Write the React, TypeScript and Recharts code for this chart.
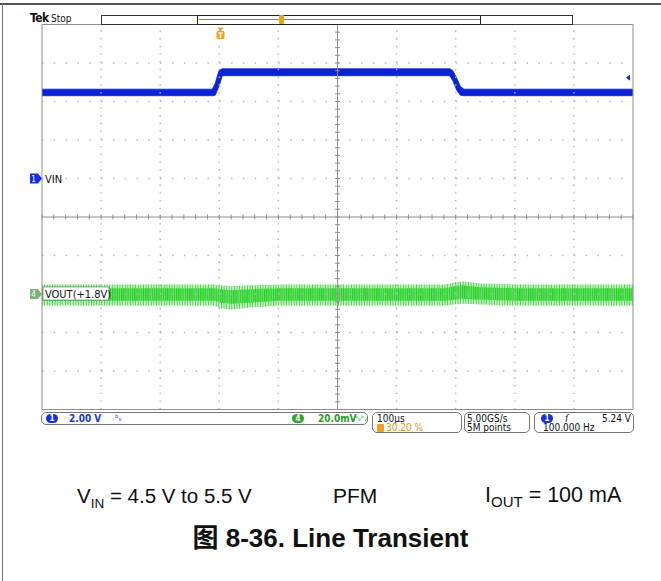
import React from 'react';
import {
  ComposedChart,
  Area,
  Scatter,
  XAxis,
  YAxis,
  ReferenceLine,
  ReferenceDot,
} from 'recharts';

// horizontal: 100 us/div, trigger at 30.20 % of the 10-div record
const TIME_DOMAIN: [number, number] = [-302, 698];

// CH1 VIN, 2.00 V/div (ground marker 4 div below top)
const VIN_DOMAIN: [number, number] = [-12, 8];
const vinTime = [-302, -14, -9, -2.5, 3, 388, 393, 400, 406, 412, 698];
const vinLow = [4.3, 4.3, 4.32, 4.78, 5.34, 5.34, 5.09, 4.57, 4.32, 4.3, 4.3];
const vinHigh = [4.64, 4.64, 4.94, 5.61, 5.7, 5.7, 5.61, 5.19, 4.78, 4.64, 4.64];

// CH4 VOUT, 20.0 mV/div, offset +1.8 V -> deviation in mV (marker 7 div below top)
const VOUT_DOMAIN: [number, number] = [-60, 140];
const voutTime = [-302, -10, 0, 20, 50, 100, 380, 395, 410, 440, 500, 698];
const voutCoreLow = [-3.5, -3.5, -4.5, -5, -4.5, -3.5, -3.5, -3, -2.5, -3, -3.5, -3.5];
const voutCoreHigh = [3, 3, 2.5, 2, 2.5, 3, 3, 4, 4.5, 3.5, 3, 3];
const voutSpikeLow = [-6, -6, -7.5, -8, -7, -6, -6, -5.5, -5, -5.5, -6, -6];
const voutSpikeHigh = [5, 5, 4.5, 4, 4.5, 5, 5, 6, 6.5, 5.5, 5, 5];

const TRIGGER_LEVEL = 5.24;

// graticule: 10 x 10 divisions, minor ticks every 0.2 div
const GRID_LINES = [1, 2, 3, 4, 6, 7, 8, 9];
const MINOR = Array.from({ length: 51 }, (_, i) => i / 5);

const vinData = vinTime.map((t, i) => ({ t, v: [vinLow[i], vinHigh[i]] }));
const voutCore = voutTime.map((t, i) => ({ t, v: [voutCoreLow[i], voutCoreHigh[i]] }));
const voutSpike = voutTime.map((t, i) => ({ t, v: [voutSpikeLow[i], voutSpikeHigh[i]] }));
const hTicks = MINOR.map((x) => ({ x, y: 5 }));
const vTicks = MINOR.map((y) => ({ x: 5, y }));

const BLUE = '#0b22d8';
const GRAY = '#8e8e8e';
const DOT = '#b4b4b4';
const ORANGE = '#f0a020';
const TEK = '"DejaVu Sans Condensed", "DejaVu Sans", sans-serif';
const ARIAL = '"Liberation Sans", Arial, sans-serif';

const ChannelMarker = (p: any) => {
  const { cx, cy, fill, num, label, boxed } = p;
  return (
    <g>
      <path d={`M${cx - 12},${cy - 5} h8 l4,5 l-4,5 h-8 z`} fill={fill} />
      <text x={cx - 8.5} y={cy + 3} fontSize={8} fill="#fff" textAnchor="middle" fontFamily={TEK}>
        {num}
      </text>
      {boxed && (
        <rect x={cx + 1} y={cy - 7} width={66} height={13} fill="#fff" stroke="#666" strokeWidth={0.6} />
      )}
      <text x={cx + 3} y={cy + 4} fontSize={11} fill="#111" fontFamily={TEK}>
        {label}
      </text>
    </g>
  );
};

const TrigLevel = (p: any) => (
  <path d={`M${p.cx - 3},${p.cy - 3} L${p.cx - 7},${p.cy} L${p.cx - 3},${p.cy + 3} z`} fill={BLUE} />
);

const TrigPos = (p: any) => (
  <g>
    <path d={`M${p.cx - 3},${p.cy + 3} h6 l-3,4 z`} fill={ORANGE} />
    <rect x={p.cx - 4} y={p.cy + 6.5} width={8} height={8} rx={1.5} fill={ORANGE} />
    <text x={p.cx} y={p.cy + 13.5} fontSize={7.5} fontWeight="bold" fill="#fff" textAnchor="middle" fontFamily={TEK}>
      T
    </text>
  </g>
);

const HTick = (p: any) => <line x1={p.cx} x2={p.cx} y1={p.cy - 2.5} y2={p.cy + 2.5} stroke={GRAY} strokeWidth={1} />;
const VTick = (p: any) => <line x1={p.cx - 2.5} x2={p.cx + 2.5} y1={p.cy} y2={p.cy} stroke={GRAY} strokeWidth={1} />;

const abs = (left: number, top: number, extra: React.CSSProperties = {}): React.CSSProperties => ({
  position: 'absolute',
  left,
  top,
  whiteSpace: 'nowrap',
  ...extra,
});

const tekText = (left: number, top: number, color = '#111', extra: React.CSSProperties = {}) =>
  abs(left, top, { fontFamily: TEK, fontSize: 10, lineHeight: '9px', color, ...extra });

const Oval = ({ left, top, color, num }: { left: number; top: number; color: string; num: string }) => (
  <div
    style={abs(left, top, {
      width: 12,
      height: 9,
      borderRadius: 5,
      background: color,
      color: '#fff',
      fontFamily: TEK,
      fontSize: 8,
      lineHeight: '9px',
      textAlign: 'center',
      fontWeight: 'bold',
    })}
  >
    {num}
  </div>
);

const box = (left: number, width: number, height: number): React.CSSProperties =>
  abs(left, 412, {
    width,
    height,
    boxSizing: 'border-box',
    border: '1px solid #777',
    borderRadius: 5,
    background: '#fff',
  });

export default function App() {
  return (
    <div style={{ position: 'absolute', left: 0, top: 0, width: 661, height: 581, background: '#fff', overflow: 'hidden' }}>
      {/* page frame */}
      <div style={abs(0, 3, { width: 661, height: 2, background: '#555' })} />
      <div style={abs(2, 4, { width: 1, height: 577, background: '#777' })} />

      <div style={abs(0, 0)}>
        <ComposedChart width={661} height={430} margin={{ top: 24.5, right: 28, bottom: 20.5, left: 42 }}>
          <defs>
            <pattern id="spikes" width="2.6" height="6" patternUnits="userSpaceOnUse">
              <rect x="0" y="0" width="1" height="6" fill="#45cf45" />
              <rect x="1" y="0" width="1.6" height="6" fill="#c4f0c4" />
            </pattern>
            <pattern id="core" width="2.2" height="6" patternUnits="userSpaceOnUse">
              <rect x="0" y="0" width="1.3" height="6" fill="#1fcf1f" />
              <rect x="1.3" y="0" width="0.9" height="6" fill="#72e272" />
            </pattern>
          </defs>
          <XAxis xAxisId="t" dataKey="t" type="number" domain={TIME_DOMAIN} allowDataOverflow hide />
          <YAxis yAxisId="v1" type="number" domain={VIN_DOMAIN} allowDataOverflow hide />
          <YAxis yAxisId="v4" type="number" domain={VOUT_DOMAIN} allowDataOverflow hide />
          <XAxis
            xAxisId="div"
            dataKey="x"
            type="number"
            domain={[0, 10]}
            ticks={MINOR}
            interval={0}
            orientation="bottom"
            mirror
            tick={false}
            tickSize={4}
            stroke={GRAY}
          />
          <XAxis
            xAxisId="divTop"
            type="number"
            domain={[0, 10]}
            ticks={MINOR}
            interval={0}
            orientation="top"
            mirror
            tick={false}
            tickSize={4}
            stroke={GRAY}
          />
          <YAxis
            yAxisId="div"
            dataKey="y"
            type="number"
            domain={[0, 10]}
            ticks={MINOR}
            interval={0}
            orientation="left"
            mirror
            tick={false}
            tickSize={4}
            stroke={GRAY}
          />
          <YAxis
            yAxisId="divRight"
            type="number"
            domain={[0, 10]}
            ticks={MINOR}
            interval={0}
            orientation="right"
            mirror
            tick={false}
            tickSize={4}
            stroke={GRAY}
          />

          {GRID_LINES.map((g) => (
            <ReferenceLine key={`gx${g}`} xAxisId="div" yAxisId="div" x={g} stroke={DOT} strokeWidth={1.4} strokeDasharray="1.4 6.31" />
          ))}
          {GRID_LINES.map((g) => (
            <ReferenceLine key={`gy${g}`} xAxisId="div" yAxisId="div" y={g} stroke={DOT} strokeWidth={1.4} strokeDasharray="1.4 10.42" />
          ))}
          <ReferenceLine xAxisId="div" yAxisId="div" x={5} stroke={GRAY} />
          <ReferenceLine xAxisId="div" yAxisId="div" y={5} stroke={GRAY} />
          <Scatter xAxisId="div" yAxisId="div" data={hTicks} shape={HTick} isAnimationActive={false} />
          <Scatter xAxisId="div" yAxisId="div" data={vTicks} shape={VTick} isAnimationActive={false} />

          <Area
            xAxisId="t"
            yAxisId="v4"
            data={voutSpike}
            dataKey="v"
            type="linear"
            stroke="none"
            fill="url(#spikes)"
            fillOpacity={1}
            isAnimationActive={false}
          />
          <Area
            xAxisId="t"
            yAxisId="v4"
            data={voutCore}
            dataKey="v"
            type="linear"
            stroke="none"
            fill="url(#core)"
            fillOpacity={1}
            isAnimationActive={false}
          />
          <Area
            xAxisId="t"
            yAxisId="v1"
            data={vinData}
            dataKey="v"
            type="linear"
            stroke={BLUE}
            strokeWidth={0.8}
            fill={BLUE}
            fillOpacity={1}
            isAnimationActive={false}
          />

          <ReferenceDot
            xAxisId="t"
            yAxisId="v1"
            x={TIME_DOMAIN[0]}
            y={0}
            shape={(p: any) => <ChannelMarker {...p} fill="#1530e0" num="1" label="VIN" />}
          />
          <ReferenceDot
            xAxisId="t"
            yAxisId="v4"
            x={TIME_DOMAIN[0]}
            y={0}
            shape={(p: any) => <ChannelMarker {...p} fill="#7fb07f" num="4" label="VOUT(+1.8V)" boxed />}
          />
          <ReferenceDot xAxisId="t" yAxisId="v1" x={TIME_DOMAIN[1]} y={TRIGGER_LEVEL} shape={TrigLevel} />
          <ReferenceDot xAxisId="t" yAxisId="v1" x={0} y={VIN_DOMAIN[1]} shape={TrigPos} />
        </ComposedChart>
      </div>

      {/* header */}
      <div style={abs(30, 12, { fontFamily: TEK, fontSize: 12, fontWeight: 'bold', lineHeight: '12px', letterSpacing: -0.6, color: '#111' })}>
        Tek
      </div>
      <div style={tekText(51, 14)}>Stop</div>
      <div style={abs(101, 14.5, { width: 472, height: 10, boxSizing: 'border-box', border: '1px solid #333', background: '#fff' })} />
      <div style={abs(197, 14.5, { width: 284, height: 10, boxSizing: 'border-box', border: '1.5px solid #222' })} />
      <div style={abs(198.5, 19, { width: 281, height: 1, background: '#7878d8' })} />
      <div style={abs(279, 15, { width: 5, height: 9, borderRadius: 1, background: ORANGE })} />

      {/* status bar */}
      <div style={box(41, 327, 13)} />
      <Oval left={46} top={414} color="#1530e0" num="1" />
      <div style={tekText(69, 414, '#2436c8', { fontWeight: 'bold' })}>2.00 V</div>
      <div style={tekText(115, 414, '#2436c8', { fontSize: 9 })}>ᵇᵥ</div>
      <Oval left={292} top={414} color="#2fa42f" num="4" />
      <div style={tekText(318, 414, '#25a025', { fontWeight: 'bold' })}>20.0mV</div>
      <div style={tekText(355, 414, '#25a025', { fontSize: 8 })}>ᵇᵥᵇᵥ</div>

      <div style={box(372, 90, 21)} />
      <div style={tekText(377, 413.5)}>100µs</div>
      <div style={abs(377, 423.5, { width: 7, height: 8, borderRadius: 1, background: ORANGE })} />
      <div style={tekText(386, 423, '#e8941a')}>30.20 %</div>

      <div style={box(464, 66, 21)} />
      <div style={tekText(467, 413.5)}>5.00GS/s</div>
      <div style={tekText(467, 423)}>5M points</div>

      <div style={box(534, 100, 21)} />
      <Oval left={541} top={413.5} color="#1530e0" num="1" />
      <div style={tekText(565, 413.5, '#111', { fontStyle: 'italic' })}>ſ</div>
      <div style={tekText(598, 413.5, '#111', { width: 33, textAlign: 'right' })}>5.24 V</div>
      <div style={tekText(543, 423)}>100.000 Hz</div>

      {/* caption */}
      <div style={abs(77, 485, { fontFamily: ARIAL, fontSize: 20.5, lineHeight: '21px', color: '#111' })}>
        V<sub style={{ fontSize: 13.5, verticalAlign: -5, lineHeight: 0 }}>IN</sub> = 4.5 V to 5.5 V
      </div>
      <div style={abs(333, 485, { fontFamily: ARIAL, fontSize: 21, lineHeight: '21px', color: '#111' })}>PFM</div>
      <div style={abs(485, 485, { fontFamily: ARIAL, fontSize: 21.5, lineHeight: '21px', color: '#111' })}>
        I<sub style={{ fontSize: 15, verticalAlign: -5, lineHeight: 0 }}>OUT</sub> = 100 mA
      </div>
      <div
        style={abs(0, 525, {
          width: 661,
          textAlign: 'center',
          fontFamily: '"Liberation Sans", "Noto Sans CJK SC", sans-serif',
          fontSize: 26,
          lineHeight: '26px',
          fontWeight: 'bold',
          color: '#111',
        })}
      >
        图 8-36. Line Transient
      </div>
    </div>
  );
}
